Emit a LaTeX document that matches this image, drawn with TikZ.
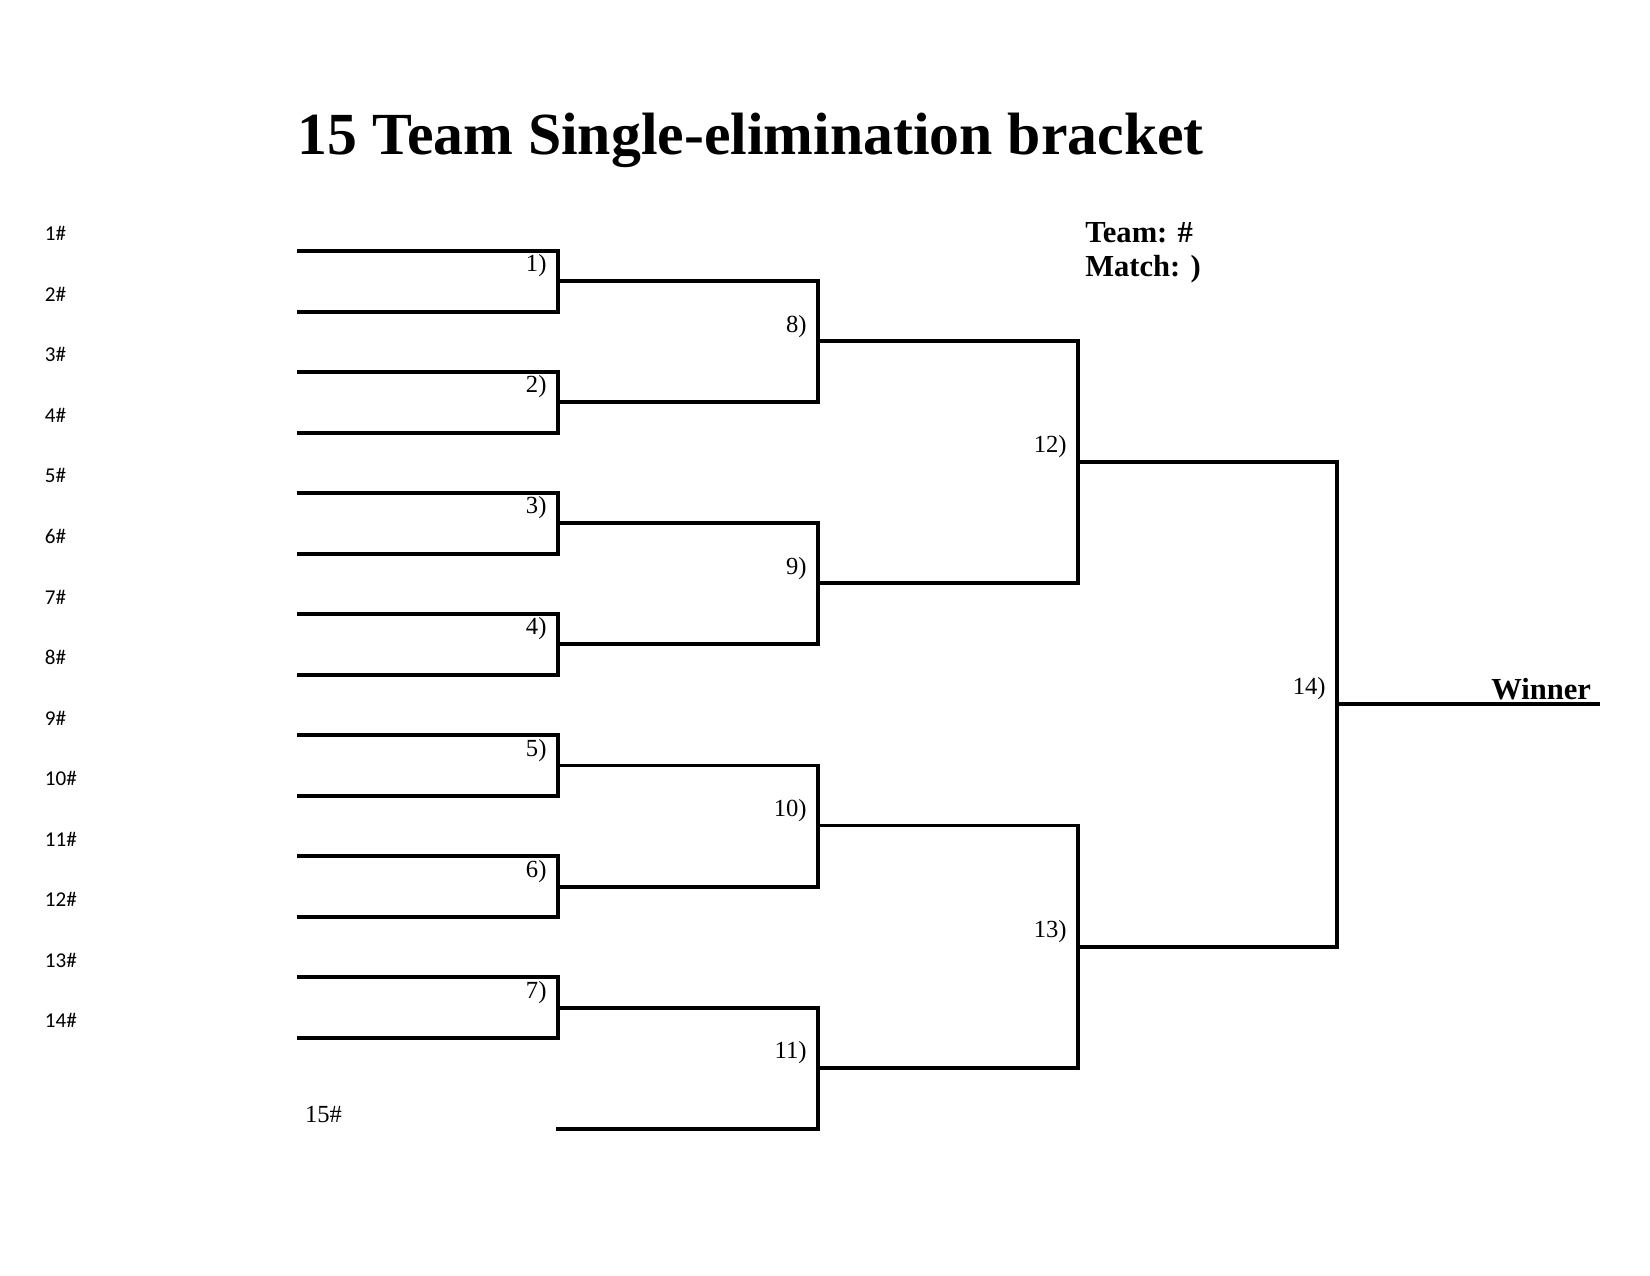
\documentclass[tikz,border=0pt]{standalone}
\usepackage{fontspec}
\setmainfont{Liberation Serif}
\newfontfamily\teamfont{Carlito}
\begin{document}
\begin{tikzpicture}[x=0.01053cm, y=-0.01053cm,
    line/.style={line width=1.1pt, line cap=rect},
    matchlbl/.style={anchor=south east, inner sep=1pt, font=\fontsize{7}{8}\selectfont},
    teamlbl/.style={anchor=west, inner sep=0pt, font=\teamfont\fontsize{6}{7}\selectfont}
]
\useasboundingbox (0,0) rectangle (1567,1211);

% title and key
\node[font=\bfseries\fontsize{17}{20}\selectfont] (title) at (713,133) {15 Team Single-elimination bracket};
\node[anchor=west, align=left, inner sep=0pt, font=\bfseries\fontsize{8.7}{9.5}\selectfont] (key) at (1030,240) {Team: \#\\Match: )};

% team labels
\foreach \t in {1,...,14}
  \node[teamlbl] (t\t) at (42,{222+57.5*(\t-1)}) {\t\#};
\node[anchor=west, inner sep=0pt, font=\fontsize{7}{8}\selectfont] (t15) at (289,1058) {15\#};

% round 1
\foreach \m in {1,...,7} {
  \pgfmathsetmacro\ya{238+115*(\m-1)}
  \pgfmathsetmacro\yb{\ya+58}
  \draw[line] (284,\ya) -- (530,\ya) -- (530,\yb) -- (284,\yb);
  \node[matchlbl] (m\m) at (523,{\ya+29}) {\m)};
}

% round 2
\foreach \m/\ya/\yb in {8/267/382, 9/497/612, 10/727/842, 11/957/1072} {
  \draw[line] (530,\ya) -- (777,\ya) -- (777,\yb) -- (530,\yb);
  \node[matchlbl] (m\m) at (770,{(\ya+\yb)/2}) {\m)};
}

% round 3
\foreach \m/\ya/\yb in {12/324/554, 13/784/1014} {
  \draw[line] (777,\ya) -- (1024,\ya) -- (1024,\yb) -- (777,\yb);
  \node[matchlbl] (m\m) at (1017,{(\ya+\yb)/2}) {\m)};
}

% final
\draw[line] (1024,439) -- (1270,439) -- (1270,899) -- (1024,899);
\node[matchlbl] (m14) at (1263,669) {14)};
\draw[line] (1270,669) -- (1518,669);
\node[anchor=south east, inner sep=1pt, font=\bfseries\fontsize{8.7}{9.5}\selectfont] (win) at (1515,669) {Winner};
\end{tikzpicture}
\end{document}
